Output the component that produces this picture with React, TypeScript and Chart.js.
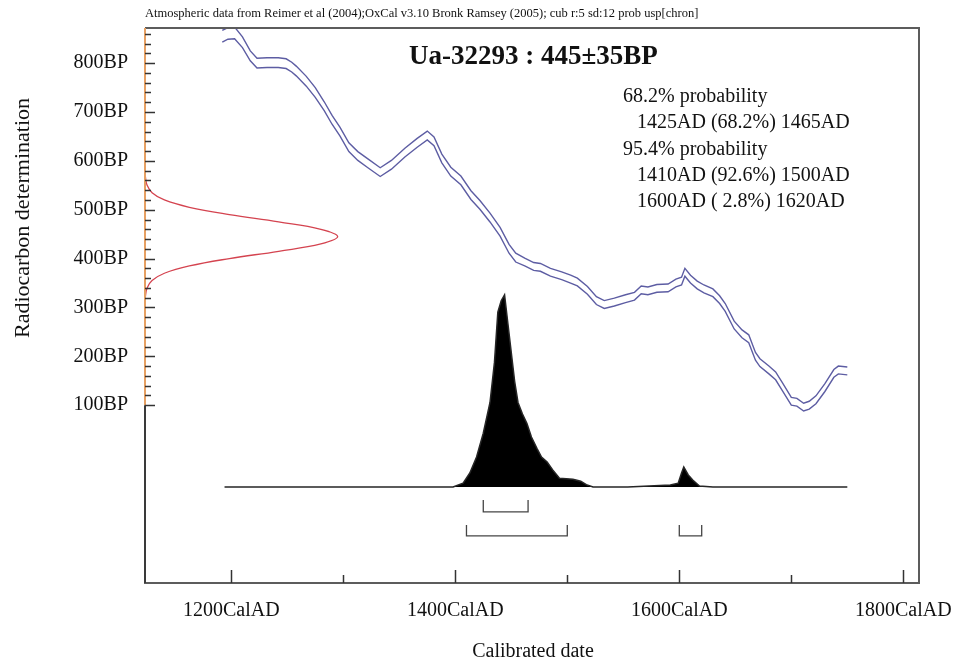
import React, { useEffect, useRef } from 'react';
import { Chart, registerables } from 'chart.js';

Chart.register(...registerables);

// ---------------- data ----------------
// calibration curve (IntCal04 band): calendar year, centre BP, 1-sigma half width
const CAL_YEARS = [1192, 1197, 1203, 1210, 1217, 1223, 1232, 1242, 1249, 1254, 1258, 1267, 1275, 1283, 1290, 1297, 1305, 1313, 1322, 1333, 1343, 1355, 1366, 1375, 1381, 1388, 1396, 1405, 1414, 1422, 1431, 1440, 1448, 1454, 1462, 1470, 1476, 1485, 1495, 1503, 1509, 1518, 1526, 1533, 1542, 1552, 1560, 1566, 1572, 1580, 1590, 1597, 1602, 1605, 1610, 1616, 1622, 1630, 1636, 1641, 1649, 1656, 1662, 1668, 1672, 1680, 1686, 1692, 1700, 1705, 1711, 1716, 1722, 1730, 1738, 1742, 1750];
const CAL_BP = [855, 861, 862, 843, 815, 800, 801, 801, 799, 792, 784, 763, 740, 712, 684, 660, 628, 610, 595, 577, 592, 617, 637, 652, 640, 605, 578, 560, 530, 510, 484, 455, 420, 402, 393, 384, 382, 372, 365, 358, 352, 335, 314, 306, 311, 318, 323, 336, 334, 339, 340, 350, 354, 372, 358, 346, 338, 330, 316, 300, 264, 246, 236, 200, 187, 172, 160, 138, 108, 106, 96, 100, 111, 136, 165, 172, 170];
const CAL_ERR = [12, 12, 12, 11, 10, 10, 10, 10, 10, 10, 10, 10, 10, 9, 9, 9, 9, 9, 9, 9, 9, 9, 9, 9, 9, 9, 9, 9, 9, 9, 9, 9, 9, 9, 8, 8, 8, 8, 8, 8, 8, 8, 8, 8, 8, 8, 8, 8, 8, 8, 8, 8, 8, 8, 8, 8, 8, 8, 8, 8, 8, 8, 8, 8, 8, 8, 8, 8, 8, 8, 8, 8, 8, 8, 8, 8, 8];

// radiocarbon measurement (red curve): BP and its height measured in calendar-year units from the left axis
const R14_BP = [580, 565, 550, 535, 520, 505, 490, 475, 460, 445, 430, 415, 400, 385, 370, 355, 340, 325, 310];
const R14_WIDTH = [0, 0.5, 1.9, 6.3, 17.3, 39.6, 75.3, 119.3, 157, 172, 157, 119.3, 75.3, 39.6, 17.3, 6.3, 1.9, 0.5, 0];

// calibrated probability distribution (black)
const PROB_YEARS = [1194, 1350, 1398, 1407, 1413, 1419, 1425, 1431, 1435, 1438, 1441, 1444, 1447, 1450, 1453, 1456, 1460, 1464, 1468, 1473, 1477, 1482, 1487, 1493, 1505, 1512, 1517, 1523, 1554, 1592, 1599, 1602, 1604, 1608, 1612, 1618, 1630, 1750];
const PROB_VALUES = [0, 0, 0, 0.02, 0.073, 0.156, 0.28, 0.44, 0.65, 0.91, 0.97, 1.0, 0.85, 0.7, 0.55, 0.44, 0.38, 0.33, 0.26, 0.2, 0.156, 0.13, 0.089, 0.045, 0.04, 0.03, 0.012, 0, 0, 0.01, 0.02, 0.073, 0.104, 0.0625, 0.036, 0.005, 0, 0];

// ranges
const RANGE_68 = [[1425, 1465]];
const PCT_68 = ['68.2'];
const RANGE_95 = [[1410, 1500], [1600, 1620]];
const PCT_95 = ['92.6', ' 2.8'];

// axes
const X_TICKS = [1200, 1300, 1400, 1500, 1600, 1700, 1800];
const X_TICK_LABELS = [1200, 1400, 1600, 1800];
const Y_TICK_LABELS = [100, 200, 300, 400, 500, 600, 700, 800];
const Y_MINOR_FROM = 100;
const Y_MINOR_TO = 860;
const Y_MINOR_STEP = 20;

const TITLE = 'Ua-32293 : 445±35BP';
const SUBTITLE = 'Atmospheric data from Reimer et al (2004);OxCal v3.10 Bronk Ramsey (2005); cub r:5 sd:12 prob usp[chron]';

// ---------------- style ----------------
const FONT = '"Liberation Serif", "Times New Roman", serif';
const X_MIN = 1123, X_MAX = 1814;
const Y_MIN = -264, Y_MAX = 872;
const P_MIN = -0.5, P_MAX = 2.39;
const B68 = [-0.068, -0.13];
const B95 = [-0.198, -0.255];

const decor = {
  id: 'decor',
  afterDraw(chart: any) {
    const { ctx, chartArea: a, scales } = chart;
    const xs = scales.x, ys = scales.y;
    ctx.save();
    // frame
    ctx.lineCap = 'butt';
    ctx.lineWidth = 2;
    ctx.strokeStyle = '#5c5c5c';
    ctx.beginPath();
    ctx.moveTo(a.left, a.top);
    ctx.lineTo(a.right, a.top);
    ctx.lineTo(a.right, a.bottom);
    ctx.lineTo(a.left - 1, a.bottom);
    ctx.stroke();
    const yEnd = ys.getPixelForValue(Y_MINOR_FROM);
    ctx.strokeStyle = '#e6a063';
    ctx.beginPath();
    ctx.moveTo(a.left, a.top);
    ctx.lineTo(a.left, yEnd);
    ctx.stroke();
    ctx.strokeStyle = '#3a3a3a';
    ctx.beginPath();
    ctx.moveTo(a.left, yEnd);
    ctx.lineTo(a.left, a.bottom);
    ctx.stroke();
    // y ticks
    ctx.lineWidth = 1.5;
    ctx.strokeStyle = '#333';
    ys.ticks.forEach((t: any) => {
      const py = Math.round(ys.getPixelForValue(t.value)) + 0.5;
      const len = t.value % 100 === 0 ? 10 : 6;
      ctx.beginPath();
      ctx.moveTo(a.left, py);
      ctx.lineTo(a.left + len, py);
      ctx.stroke();
    });
    // x ticks
    xs.ticks.forEach((t: any) => {
      const px = Math.round(xs.getPixelForValue(t.value)) + 0.5;
      const len = t.value % 200 === 0 ? 13 : 8;
      ctx.beginPath();
      ctx.moveTo(px, a.bottom);
      ctx.lineTo(px, a.bottom - len);
      ctx.stroke();
    });
    // texts
    ctx.fillStyle = '#111';
    ctx.textBaseline = 'middle';
    ctx.textAlign = 'left';
    ctx.font = `12.5px ${FONT}`;
    ctx.fillText(SUBTITLE, 145, 14);
    ctx.font = `bold 27px ${FONT}`;
    ctx.fillText(TITLE, 409, 57);
    ctx.font = `20px ${FONT}`;
    const lines: [string, number][] = [];
    lines.push(['68.2% probability', 623]);
    RANGE_68.forEach((r, i) => lines.push([`${r[0]}AD (${PCT_68[i]}%) ${r[1]}AD`, 637]));
    lines.push(['95.4% probability', 623]);
    RANGE_95.forEach((r, i) => lines.push([`${r[0]}AD (${PCT_95[i]}%) ${r[1]}AD`, 637]));
    lines.forEach(([s, x], i) => ctx.fillText(s, x, 97 + i * 26.2));
    // axis titles
    ctx.textAlign = 'center';
    ctx.fillText('Calibrated date', 533, 652);
    ctx.translate(23, 218);
    ctx.rotate(-Math.PI / 2);
    ctx.font = `22px ${FONT}`;
    ctx.fillText('Radiocarbon determination', 0, 0);
    ctx.restore();
  },
};

export default function App() {
  const ref = useRef<HTMLCanvasElement>(null);
  useEffect(() => {
    const bracket = (r: number[], lv: number[]) => ({
      type: 'scatter',
      showLine: true,
      yAxisID: 'prob',
      data: [
        { x: r[0], y: lv[0] },
        { x: r[0], y: lv[1] },
        { x: r[1], y: lv[1] },
        { x: r[1], y: lv[0] },
      ],
      borderColor: '#454545',
      borderWidth: 1.3,
      pointRadius: 0,
      tension: 0,
      fill: false,
    });
    const datasets: any[] = [
      {
        data: PROB_YEARS.map((yr, i) => ({ x: yr, y: PROB_VALUES[i] })),
        yAxisID: 'prob',
        showLine: true,
        fill: 'origin',
        backgroundColor: '#000',
        borderColor: '#262626',
        borderWidth: 1.5,
        pointRadius: 0,
        tension: 0,
      },
      {
        data: CAL_YEARS.map((yr, i) => ({ x: yr, y: CAL_BP[i] + CAL_ERR[i] })),
        yAxisID: 'y',
        showLine: true,
        borderColor: '#5d5da3',
        borderWidth: 1.4,
        pointRadius: 0,
        tension: 0,
      },
      {
        data: CAL_YEARS.map((yr, i) => ({ x: yr, y: CAL_BP[i] - CAL_ERR[i] })),
        yAxisID: 'y',
        showLine: true,
        borderColor: '#5d5da3',
        borderWidth: 1.4,
        pointRadius: 0,
        tension: 0,
      },
      {
        data: R14_BP.map((bp, i) => ({ x: X_MIN + R14_WIDTH[i], y: bp })),
        yAxisID: 'y',
        showLine: true,
        borderColor: '#d4434f',
        borderWidth: 1.3,
        pointRadius: 0,
        tension: 0.4,
      },
      ...RANGE_68.map((r) => bracket(r, B68)),
      ...RANGE_95.map((r) => bracket(r, B95)),
    ];
    const chart = new Chart(ref.current as HTMLCanvasElement, {
      type: 'scatter',
      data: { datasets },
      plugins: [decor],
      options: {
        responsive: false,
        animation: false,
        layout: { padding: { top: 28, right: 39, left: 0, bottom: 0 } },
        plugins: { legend: { display: false }, tooltip: { enabled: false }, title: { display: false } },
        scales: {
          x: {
            type: 'linear',
            min: X_MIN,
            max: X_MAX,
            afterFit: (s: any) => { s.height = 81; s.paddingLeft = 0; s.paddingRight = 0; },
            afterBuildTicks: (s: any) => { s.ticks = X_TICKS.map((v) => ({ value: v })); },
            grid: { display: false, drawTicks: false },
            border: { display: false },
            ticks: {
              autoSkip: false,
              maxRotation: 0,
              padding: 16,
              color: '#111',
              font: { family: FONT, size: 20 },
              callback: (v: any) => (X_TICK_LABELS.includes(Number(v)) ? `${v}CalAD` : ''),
            },
          },
          y: {
            type: 'linear',
            position: 'left',
            min: Y_MIN,
            max: Y_MAX,
            afterFit: (s: any) => { s.width = 145; s.paddingTop = 0; s.paddingBottom = 0; },
            afterBuildTicks: (s: any) => {
              const t: any[] = [];
              for (let v = Y_MINOR_FROM; v <= Y_MINOR_TO; v += Y_MINOR_STEP) t.push({ value: v });
              s.ticks = t;
            },
            grid: { display: false, drawTicks: false },
            border: { display: false },
            ticks: {
              autoSkip: false,
              padding: 17,
              color: '#111',
              font: { family: FONT, size: 20 },
              callback: (v: any) => (Y_TICK_LABELS.includes(Number(v)) ? `${v}BP` : ''),
            },
          },
          prob: {
            type: 'linear',
            position: 'right',
            display: false,
            min: P_MIN,
            max: P_MAX,
          },
        },
      } as any,
    });
    return () => chart.destroy();
  }, []);
  return (
    <canvas
      ref={ref}
      width={958}
      height={664}
      style={{ position: 'fixed', left: 0, top: 0, width: 958, height: 664, display: 'block', background: '#fff' }}
    />
  );
}
